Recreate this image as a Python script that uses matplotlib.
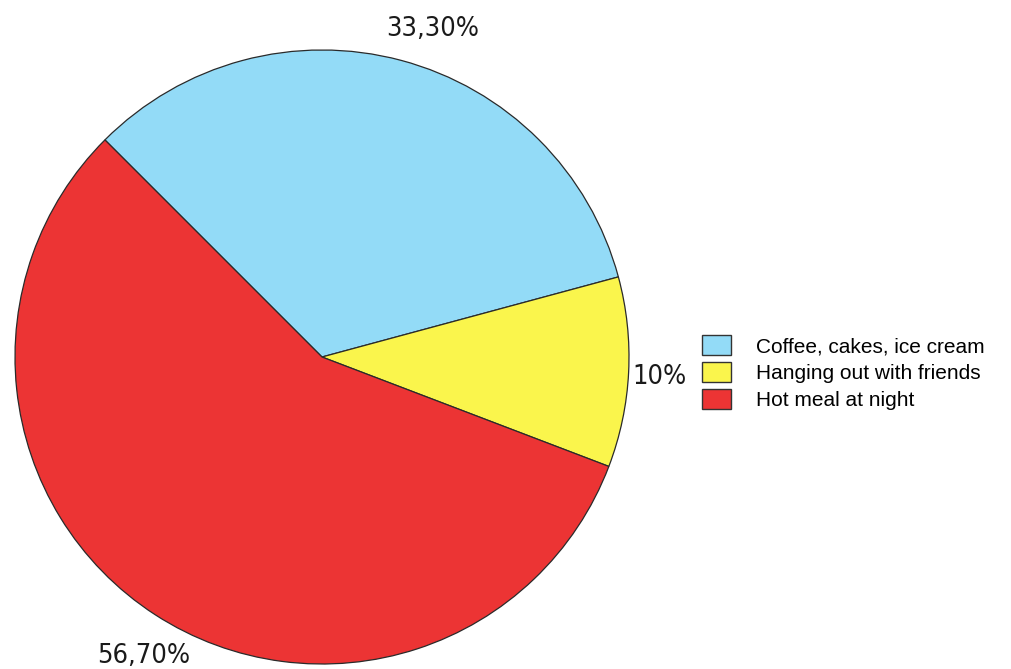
import matplotlib
matplotlib.use("Agg")
import matplotlib.pyplot as plt
import numpy as np
from matplotlib.patches import Patch

categories = ["Coffee, cakes, ice cream", "Hanging out with friends", "Hot meal at night"]
values = [33.3, 10.0, 56.7]
pct_labels = ["33,30%", "10%", "56,70%"]
colors = ["#93dbf7", "#faf54c", "#ec3434"]

fig = plt.figure(figsize=(10.12, 6.69), dpi=100)
ax = fig.add_axes([15/1012, 5/669, 614/1012, 614/669])
wedges, _ = ax.pie(values, colors=colors, startangle=135, counterclock=False,
                   radius=1.0, wedgeprops=dict(edgecolor="#2a2a2a", linewidth=0.9))
ax.set_xlim(-1, 1)
ax.set_ylim(-1, 1)
ax.set_aspect("equal")
ax.axis("off")

label_pos = [(0.36, 1.07), (1.10, -0.065), (-0.58, -0.975)]
for (x, y), t in zip(label_pos, pct_labels):
    ax.text(x, y, t, ha="center", va="center", fontsize=19.5,
            family="DejaVu Sans", fontstretch="condensed", color="#1a1a1a")

handles = [Patch(facecolor=c, edgecolor="#333333", linewidth=1.0) for c in colors]
fig.legend(handles, categories, loc="upper left", bbox_to_anchor=(702/1012, 1 - 335/669),
           frameon=False, handlelength=1.4, handleheight=1.1,
           handletextpad=1.2, labelspacing=0.28, borderaxespad=0, borderpad=0,
           prop=dict(family="Liberation Sans", size=15))
fig.savefig("out.png", dpi=100, facecolor="white")
